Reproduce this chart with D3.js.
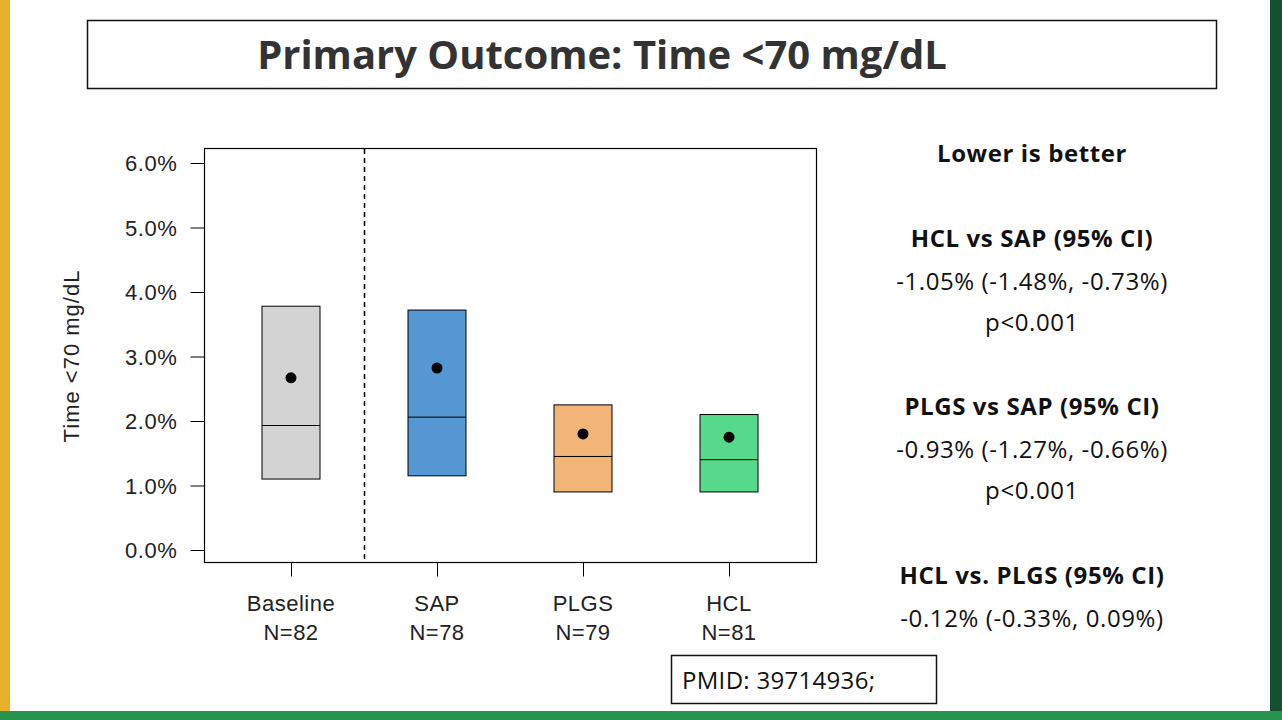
<!DOCTYPE html>
<html><head><meta charset="utf-8">
<script src="https://cdn.jsdelivr.net/npm/d3@7"></script>
<style>body{margin:0;background:#fff;}svg{display:block;}</style>
</head><body>
<svg id="chart" width="1282" height="720"></svg>
<script>
var groups = ["Baseline", "SAP", "PLGS", "HCL"];
var counts = ["N=82", "N=78", "N=79", "N=81"];
var q1 = [1.10, 1.15, 0.90, 0.90];
var median = [1.93, 2.06, 1.45, 1.40];
var q3 = [3.78, 3.72, 2.25, 2.10];
var mean = [2.67, 2.82, 1.80, 1.75];
var fills = ["#d3d3d3", "#5497d3", "#f3b477", "#57d98b"];
var yTicks = [0, 1, 2, 3, 4, 5, 6];
var notes = [
    {t: "Lower is better", b: true, y: 153},
    {t: "HCL vs SAP (95% CI)", b: true, y: 238},
    {t: "-1.05% (-1.48%, -0.73%)", y: 281},
    {t: "p<0.001", y: 322},
    {t: "PLGS vs SAP (95% CI)", b: true, y: 406},
    {t: "-0.93% (-1.27%, -0.66%)", y: 449},
    {t: "p<0.001", y: 490},
    {t: "HCL vs. PLGS (95% CI)", b: true, y: 575},
    {t: "-0.12% (-0.33%, 0.09%)", y: 618}
];

var svg = d3.select("#chart");
// slide decoration
svg.append("rect").attr("x", 0).attr("y", 0).attr("width", 10).attr("height", 711).attr("fill", "#e8b02a");
svg.append("rect").attr("x", 0).attr("y", 711).attr("width", 1282).attr("height", 9).attr("fill", "#27954f");
svg.append("rect").attr("x", 1270).attr("y", 0).attr("width", 12).attr("height", 711).attr("fill", "#145132");

// title box
svg.append("rect").attr("x", 87.5).attr("y", 20.5).attr("width", 1129).attr("height", 68)
    .attr("fill", "none").attr("stroke", "#111").attr("stroke-width", 1.5);
svg.append("text").attr("x", 602).attr("y", 69).attr("text-anchor", "middle")
    .attr("font-family", "Open Sans, sans-serif").attr("font-weight", 700).attr("font-size", 40)
    .attr("fill", "#333").text("Primary Outcome: Time <70 mg/dL");

var x = d3.scalePoint().domain(groups).range([291, 729]);
var y = d3.scaleLinear().domain([0, 6]).range([550, 163]);
var bw = 58;
var font = "Liberation Sans, Arial, sans-serif";

var g = svg.append("g");
g.append("rect").attr("x", 204.5).attr("y", 148.5).attr("width", 612).attr("height", 414)
    .attr("fill", "none").attr("stroke", "#000").attr("stroke-width", 1.2);

var yAxis = g.append("g").attr("transform", "translate(204.5,0)")
    .call(d3.axisLeft(y).tickValues(yTicks).tickSize(14).tickFormat(d => d.toFixed(1) + "%"));
yAxis.select(".domain").attr("d", "M0," + y(0) + "V" + y(6));
yAxis.selectAll("text").attr("font-family", font).attr("font-size", 22)
    .attr("letter-spacing", 0.6).attr("fill", "#222").attr("dx", -10).attr("dy", "0.36em");

var xAxis = g.append("g").attr("transform", "translate(0,562.5)")
    .call(d3.axisBottom(x).tickSize(14).tickFormat(""));
xAxis.select(".domain").remove();
groups.forEach((d, i) => {
    var t = g.append("text").attr("x", x(d)).attr("y", 611).attr("text-anchor", "middle")
        .attr("font-family", font).attr("font-size", 22).attr("letter-spacing", 0.5).attr("fill", "#222");
    t.append("tspan").attr("x", x(d)).text(d);
    t.append("tspan").attr("x", x(d)).attr("dy", 29).text(counts[i]);
});

g.append("text").attr("transform", "translate(79,356) rotate(-90)").attr("text-anchor", "middle")
    .attr("font-family", font).attr("font-size", 22).attr("letter-spacing", 1).attr("fill", "#222")
    .text("Time <70 mg/dL");

g.append("line").attr("x1", 364.5).attr("x2", 364.5).attr("y1", 149).attr("y2", 562)
    .attr("stroke", "#000").attr("stroke-width", 1.5).attr("stroke-dasharray", "5,4");

groups.forEach((d, i) => {
    g.append("rect").attr("x", x(d) - bw / 2).attr("y", y(q3[i])).attr("width", bw)
        .attr("height", y(q1[i]) - y(q3[i])).attr("fill", fills[i]).attr("stroke", "#000").attr("stroke-width", 1);
    g.append("line").attr("x1", x(d) - bw / 2).attr("x2", x(d) + bw / 2)
        .attr("y1", y(median[i])).attr("y2", y(median[i])).attr("stroke", "#000");
    g.append("circle").attr("cx", x(d)).attr("cy", y(mean[i])).attr("r", 5.5).attr("fill", "#000");
});

svg.selectAll(".note").data(notes).enter().append("text")
    .attr("x", 1032).attr("y", d => d.y + 9).attr("text-anchor", "middle")
    .attr("font-family", "Open Sans, sans-serif").attr("font-size", 24).attr("letter-spacing", 0.6)
    .attr("font-weight", d => d.b ? 700 : 400).attr("fill", "#111").text(d => d.t);

svg.append("rect").attr("x", 671.5).attr("y", 655.5).attr("width", 265).attr("height", 48)
    .attr("fill", "#fff").attr("stroke", "#111").attr("stroke-width", 1.5);
svg.append("text").attr("x", 682).attr("y", 689).attr("font-family", "Open Sans, sans-serif")
    .attr("font-size", 24).attr("letter-spacing", 0.3).attr("fill", "#111").text("PMID: 39714936;");
</script>
</body></html>
